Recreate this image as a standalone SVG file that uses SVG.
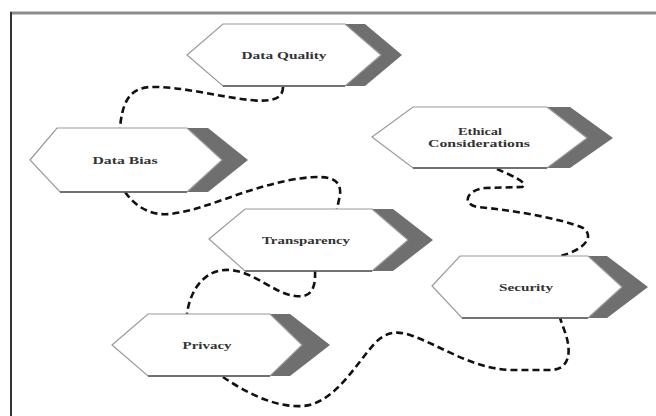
<svg xmlns="http://www.w3.org/2000/svg" width="656" height="416" viewBox="0 0 656 416">
<style>
.bg{fill:#ffffff}
.frame-top{stroke:#8c8c8c;stroke-width:3;fill:none}
.frame-left{stroke:#333333;stroke-width:2;fill:none}
.shadow{fill:#6f6f6f;stroke:none}
.hex{fill:#ffffff;stroke:#9a9a9a;stroke-width:1.2}
.base{stroke:#555555;stroke-width:1.6;fill:none}
.label{font-family:"Liberation Serif","Times New Roman",serif;font-weight:bold;font-size:11px;fill:#333333;text-anchor:middle}
.conn{fill:none;stroke:#111111;stroke-width:2.6;stroke-dasharray:7 4;stroke-linecap:butt}
</style>
<rect class="bg" x="0" y="0" width="656" height="416"/>
<line class="frame-top" x1="10" y1="13" x2="656" y2="13"/>
<line class="frame-left" x1="11" y1="12" x2="11" y2="416"/>

<g id="connectors">
  <path class="conn" d="M283,87 C283,100 270,102 250,100 C220,97 180,86 150,87 C128,88 122,105 120,128"/>
  <path class="conn" d="M125,192 C135,206 150,216 170,214 C205,210 240,190 290,180 C325,174 342,176 340,195 L337,209"/>
  <path class="conn" d="M315,271 C316,290 310,298 295,296 C275,294 255,272 230,270 C205,268 190,290 187,314"/>
  <path class="conn" d="M223,377 C245,392 275,408 303,406 C335,403 355,365 375,343 C385,333 395,330 410,335 C440,345 470,368 510,370 L550,370 C568,370 572,355 566,335 L560,318"/>
  <path class="conn" d="M497,169 C510,175 530,183 522,187 L485,188 C465,190 462,205 478,207 C510,210 560,218 583,228 C595,236 585,250 560,256"/>
</g>

<g id="node-data-quality">
  <polygon class="shadow" points="345,24 365,24 402,55 365,86 345,86 381,55"/>
  <polygon class="hex" points="187,55 223,24 345,24 381,55 345,86 223,86"/>
  <line class="base" x1="223" y1="86" x2="345" y2="86"/>
  <text class="label" x="284" y="59" textLength="85" lengthAdjust="spacingAndGlyphs">Data Quality</text>
</g>

<g id="node-data-bias">
  <polygon class="shadow" points="187,128 208,128 248,160 208,192 187,192 222,160"/>
  <polygon class="hex" points="30,160 57,128 187,128 222,160 187,192 60,192"/>
  <line class="base" x1="60" y1="192" x2="187" y2="192"/>
  <text class="label" x="125" y="164" textLength="65" lengthAdjust="spacingAndGlyphs">Data Bias</text>
</g>

<g id="node-ethical-considerations">
  <polygon class="shadow" points="547,107 570,107 613,138 570,168 547,168 587,138"/>
  <polygon class="hex" points="372,137 413,107 547,107 587,138 547,168 413,168"/>
  <line class="base" x1="413" y1="168" x2="547" y2="168"/>
  <text class="label" x="480" y="135" textLength="44" lengthAdjust="spacingAndGlyphs">Ethical</text>
  <text class="label" x="479" y="147" textLength="102" lengthAdjust="spacingAndGlyphs">Considerations</text>
</g>

<g id="node-transparency">
  <polygon class="shadow" points="372,209 393,209 433,240 393,271 372,271 408,240"/>
  <polygon class="hex" points="209,239 245,209 372,209 408,240 372,271 245,271"/>
  <line class="base" x1="245" y1="271" x2="372" y2="271"/>
  <text class="label" x="306" y="244" textLength="88" lengthAdjust="spacingAndGlyphs">Transparency</text>
</g>

<g id="node-security">
  <polygon class="shadow" points="588,256 607,256 648,287 607,318 588,318 622,287"/>
  <polygon class="hex" points="432,286 460,256 588,256 622,287 588,318 462,318"/>
  <line class="base" x1="462" y1="318" x2="588" y2="318"/>
  <text class="label" x="526" y="291" textLength="54" lengthAdjust="spacingAndGlyphs">Security</text>
</g>

<g id="node-privacy">
  <polygon class="shadow" points="270,314 290,314 330,345 290,376 270,376 302,345"/>
  <polygon class="hex" points="112,345 148,314 270,314 302,345 270,376 148,376"/>
  <line class="base" x1="148" y1="376" x2="270" y2="376"/>
  <text class="label" x="207" y="349" textLength="49" lengthAdjust="spacingAndGlyphs">Privacy</text>
</g>
</svg>
